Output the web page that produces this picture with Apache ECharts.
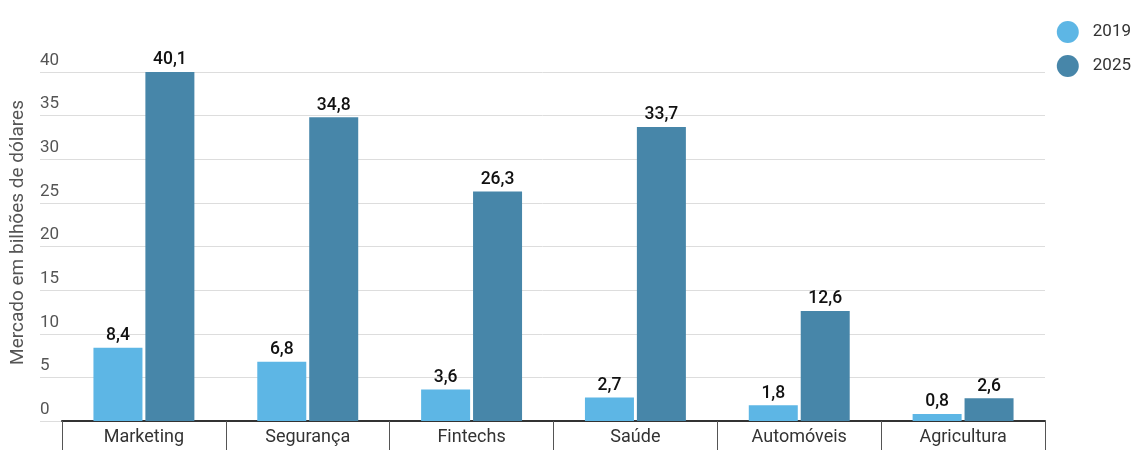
<!DOCTYPE html>
<html><head><meta charset="utf-8">
<script src="https://cdn.jsdelivr.net/npm/echarts@6/dist/echarts.min.js"></script>
<style>html,body{margin:0;padding:0;background:#fff}#c{width:1138px;height:450px}</style>
</head><body><div id="c"></div>
<script>
const categories = ['Marketing','Segurança','Fintechs','Saúde','Automóveis','Agricultura'];
const series2019 = [8.4, 6.8, 3.6, 2.7, 1.8, 0.8];
const series2025 = [40.1, 34.8, 26.3, 33.7, 12.6, 2.6];
const seriesNames = ['2019','2025'];
const yTitle = 'Mercado em bilhões de dólares';

const chart = echarts.init(document.getElementById('c'));
const font = 'Roboto';
const fmt = p => String(p.value).replace('.', ',');
chart.setOption({
  animation: false,
  textStyle: { fontFamily: font },
  legend: {
    orient: 'vertical', right: 2, top: 16, icon: 'circle',
    itemWidth: 22, itemHeight: 22, itemGap: 12,
    textStyle: { fontSize: 17, color: '#333', fontFamily: font, padding: [0,0,0,9] },
    data: seriesNames
  },
  grid: [
    { left: 62, right: 93, top: 72, bottom: 29 },
    { left: 40, right: 93, top: 72, bottom: 29 }
  ],
  xAxis: [
    { type: 'category', gridIndex: 0, data: categories,
      axisLine: { lineStyle: { color: '#333', width: 2 } },
      axisTick: { show: true, length: 29, lineStyle: { color: '#555', width: 1 } },
      axisLabel: { fontSize: 18, color: '#333', margin: 7, fontFamily: font } },
    { type: 'value', gridIndex: 1, min: 0, max: 1, show: false }
  ],
  yAxis: [
    { type: 'value', gridIndex: 0, min: 0, max: 40, interval: 5,
      axisLabel: { show: false }, splitLine: { show: false },
      axisLine: { show: false }, axisTick: { show: false } },
    { type: 'value', gridIndex: 1, min: 0, max: 40, interval: 5,
      name: yTitle, nameLocation: 'middle', nameGap: 12,
      nameTextStyle: { fontSize: 19, color: '#555', fontFamily: font, padding: [0,0,0,28] },
      axisLine: { show: false }, axisTick: { show: false },
      splitLine: { lineStyle: { color: '#ddd', width: 1 } },
      axisLabel: { inside: true, margin: 0, verticalAlign: 'bottom', padding: [0,0,3,0],
        fontSize: 17, color: '#555', fontFamily: font } }
  ],
  series: [
    { name: seriesNames[0], type: 'bar', xAxisIndex: 0, yAxisIndex: 0, data: series2019,
      barWidth: 49, barGap: '6%', itemStyle: { color: '#5DB6E5' },
      label: { show: true, position: 'top', formatter: fmt, fontSize: 17.5, fontWeight: 500, color: '#111', distance: 3 } },
    { name: seriesNames[1], type: 'bar', xAxisIndex: 0, yAxisIndex: 0, data: series2025,
      barWidth: 49, itemStyle: { color: '#4786A9' },
      label: { show: true, position: 'top', formatter: fmt, fontSize: 17.5, fontWeight: 500, color: '#111', distance: 3 } }
  ]
});
</script></body></html>
